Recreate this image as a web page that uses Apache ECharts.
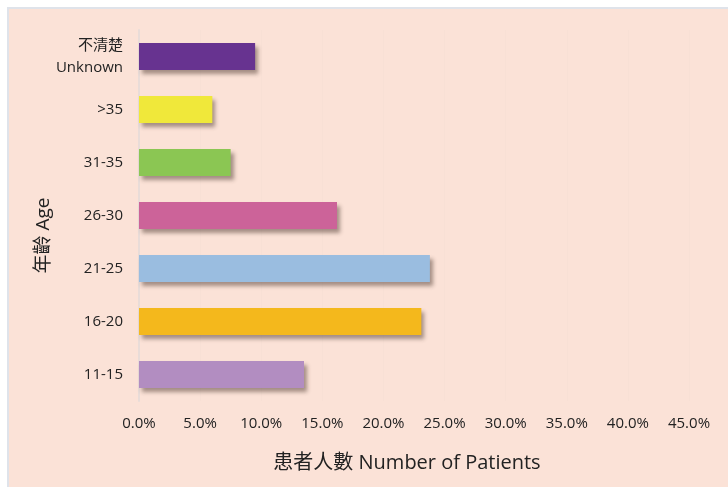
<!DOCTYPE html>
<html>
<head>
<meta charset="utf-8">
<script src="https://cdn.jsdelivr.net/npm/echarts@6/dist/echarts.min.js"></script>
<style>
    html, body { margin: 0; padding: 0; background: #fff; }
    #main { width: 728px; height: 487px; }
</style>
</head>
<body>
<div id="main"></div>
<script>
// age groups, bottom to top
const categories = ['11-15', '16-20', '21-25', '26-30', '31-35', '>35', '不清楚\nUnknown'];
const percents = [13.5, 23.1, 23.8, 16.2, 7.5, 6.0, 9.5];
const barColors = ['#b28dc1', '#f4b81c', '#9abde0', '#cc6399', '#8bc653', '#f0e83a', '#673390'];
const xTicks = { min: 0, max: 45, interval: 5 };

const font = '"Open Sans", "Noto Sans CJK TC", sans-serif';

let myChart = echarts.init(document.getElementById('main'), null, { renderer: 'canvas' });
myChart.setOption({
    backgroundColor: '#ffffff',
    animation: false,
    graphic: [{
        type: 'rect',
        z: -10,
        shape: { x: 8, y: 8, width: 730, height: 490 },
        style: { fill: '#fbe2d7', stroke: '#dfe3ea', lineWidth: 2 }
    }],
    grid: { left: 139, right: 39, top: 30, bottom: 86 },
    xAxis: {
        type: 'value',
        min: xTicks.min,
        max: xTicks.max,
        interval: xTicks.interval,
        name: '患者人數 Number of Patients',
        nameLocation: 'middle',
        nameGap: 52,
        nameMoveOverlap: false,
        nameTextStyle: { color: '#222', fontSize: 20, fontFamily: font, padding: [0, 14, 0, 0] },
        axisLine: { show: false },
        axisTick: { show: false },
        axisLabel: {
            color: '#222',
            fontSize: 15,
            fontFamily: font,
            margin: 15,
            formatter: v => v.toFixed(1) + '%'
        },
        splitLine: { show: true, lineStyle: { color: '#f8e0d5', width: 1 } }
    },
    yAxis: {
        type: 'category',
        data: categories,
        name: '年齡 Age',
        nameLocation: 'middle',
        nameGap: 86,
        nameMoveOverlap: false,
        nameRotate: 90,
        nameTextStyle: { color: '#222', fontSize: 19, fontFamily: font, padding: [0, 40, 0, 0] },
        axisLine: { show: true, lineStyle: { color: '#e9dcd8', width: 2 } },
        axisTick: { show: false },
        axisLabel: {
            color: '#222',
            fontSize: 15,
            fontFamily: font,
            margin: 16,
            lineHeight: 22
        }
    },
    series: [{
        type: 'bar',
        data: percents.map((v, i) => ({ value: v, itemStyle: { color: barColors[i] } })),
        barCategoryGap: '49%',
        itemStyle: {
            shadowBlur: 4,
            shadowOffsetX: 3,
            shadowOffsetY: 4,
            shadowColor: 'rgba(60,40,30,0.45)'
        }
    }]
});
</script>
</body>
</html>
